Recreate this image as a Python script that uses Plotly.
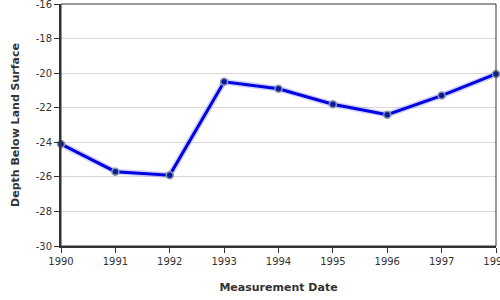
import plotly.graph_objects as go

years = [1990, 1991, 1992, 1993, 1994, 1995, 1996, 1997, 1998]
depth = [-24.1, -25.7, -25.9, -20.5, -20.9, -21.8, -22.4, -21.3, -20.05]
y_ticks = [-30, -28, -26, -24, -22, -20, -18, -16]

fig = go.Figure()
fig.add_trace(go.Scatter(
    x=years, y=depth, mode="lines",
    line=dict(color="rgba(120,120,255,0.35)", width=6),
    hoverinfo="skip", showlegend=False, cliponaxis=False))
fig.add_trace(go.Scatter(
    x=years, y=depth, mode="lines+markers",
    line=dict(color="#0000e0", width=3),
    marker=dict(size=7, color="#0a1aa0", line=dict(color="#8a9aa8", width=1.5)),
    showlegend=False, cliponaxis=False))

fig.update_layout(
    width=500, height=300,
    margin=dict(l=61, r=4, t=4, b=54),
    paper_bgcolor="white", plot_bgcolor="white",
    font=dict(family="DejaVu Sans", size=10, color="#333"),
    xaxis=dict(
        range=[1990, 1998], tickmode="array", tickvals=years,
        ticktext=[str(y) for y in years],
        showgrid=False, zeroline=False, automargin=False,
        showline=True, linecolor="#333", linewidth=2,
        ticks="outside", ticklen=5, tickcolor="#333", tickwidth=1,
        ticklabeloverflow="allow",
        title=dict(text="<b>Measurement Date</b>", font=dict(size=11, color="#333"), standoff=17),
    ),
    yaxis=dict(
        range=[-30, -16], tickmode="array", tickvals=y_ticks,
        ticktext=[str(v) for v in y_ticks],
        showgrid=True, gridcolor="#d8d8d8", gridwidth=1, zeroline=False, automargin=False,
        showline=True, linecolor="#333", linewidth=2,
        ticks="outside", ticklen=5, tickcolor="#333", tickwidth=1,
        ticklabeloverflow="allow",
        title=dict(text="<b>Depth Below Land Surface</b>", font=dict(size=11, color="#333"), standoff=14),
    ),
    shapes=[dict(type="rect", xref="paper", yref="paper", x0=0, x1=1, y0=0, y1=1,
                 line=dict(color="#333", width=1), layer="above")],
)
fig.write_html("out.html")
